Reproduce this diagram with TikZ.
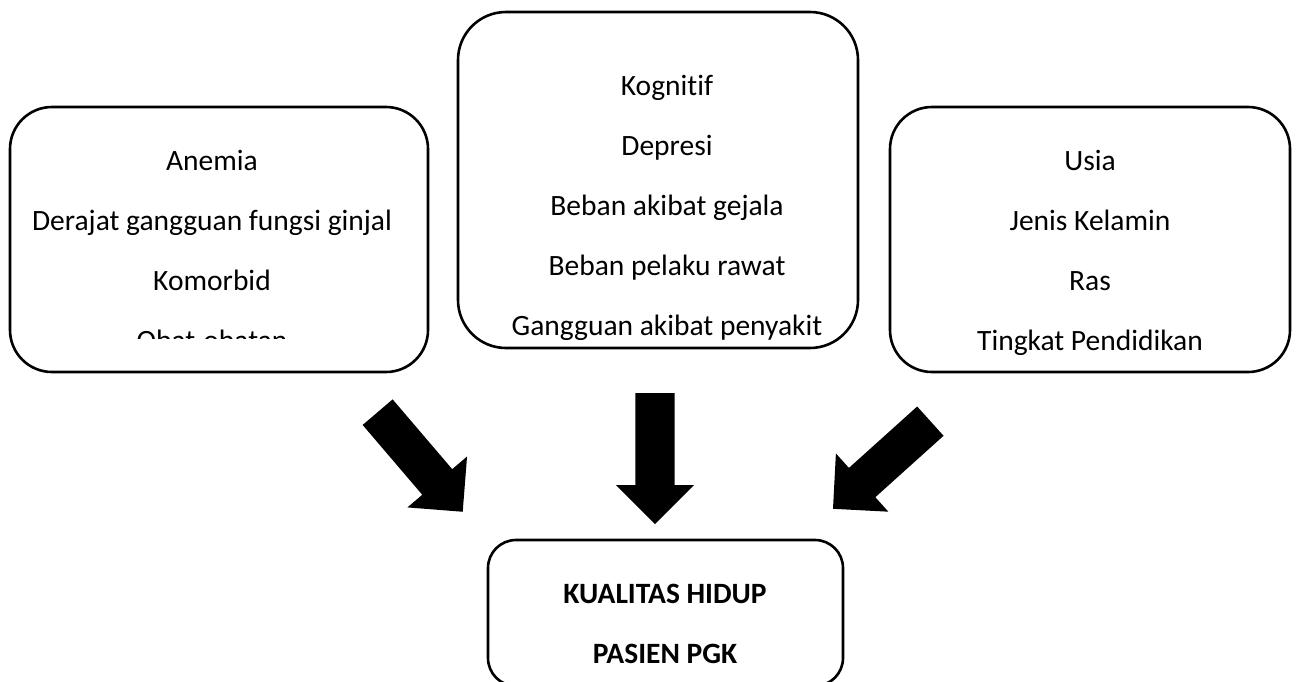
\documentclass[tikz,border=0pt]{standalone}
\usepackage{fontspec}
\setmainfont{Carlito}[Ligatures=NoCommon]
\usetikzlibrary{shapes.arrows}

\begin{document}
\begin{tikzpicture}[x=1pt,y=-1pt,
  factorbox/.style={draw=black,line width=2.6pt,rounded corners=42pt,inner sep=0pt},
  itemtext/.style={anchor=base,inner sep=0pt,font=\fontsize{29.5}{35}\selectfont},
  resulttext/.style={itemtext,font=\fontsize{29.5}{35}\selectfont\bfseries},
  blockarrow/.style={single arrow,fill=black,draw=none,inner xsep=0pt,inner ysep=19.5pt,
    anchor=tail,minimum height=131pt,minimum width=78pt,single arrow head extend=19.5pt},
]
\clip (0,0) rectangle (1298,681);
% faktor klinis
\node[factorbox,minimum width=418pt,minimum height=265pt] (klinis) at (219,239.5) {};
\foreach \txt [count=\i] in {Anemia,Derajat gangguan fungsi ginjal,Komorbid}
  \node[itemtext] (klinis\i) at (212,{110+60*\i}) {\txt};
\begin{scope}
  \clip (10,107) rectangle (428,338);
  \node[itemtext] (klinis4) at (212,350) {Obat-obatan};
\end{scope}
% faktor psikososial
\node[factorbox,rounded corners=48pt,minimum width=400pt,minimum height=336pt] (psiko) at (658,180) {};
\foreach \txt [count=\i] in {Kognitif,Depresi,Beban akibat gejala,Beban pelaku rawat,Gangguan akibat penyakit}
  \node[itemtext] (psiko\i) at (667,{35+60*\i}) {\txt};
% faktor demografi
\node[factorbox,minimum width=400pt,minimum height=265pt] (demo) at (1090,239.5) {};
\foreach \txt [count=\i] in {Usia,Jenis Kelamin,Ras,Tingkat Pendidikan}
  \node[itemtext] (demo\i) at (1090,{110+60*\i}) {\txt};
% hasil
\node[factorbox,rounded corners=28pt,minimum width=355pt,minimum height=146pt] (kualitas) at (665.5,613) {};
\node[resulttext] (kualitas1) at (665,603) {KUALITAS HIDUP};
\node[resulttext] (kualitas2) at (665,663) {PASIEN PGK};
% panah
\node[blockarrow,rotate=-49.5] (panahL) at (377.5,412) {};
\node[blockarrow,rotate=-90] (panahM) at (655,393) {};
\node[blockarrow,rotate=-138] (panahR) at (930.5,421) {};
\end{tikzpicture}
\end{document}
